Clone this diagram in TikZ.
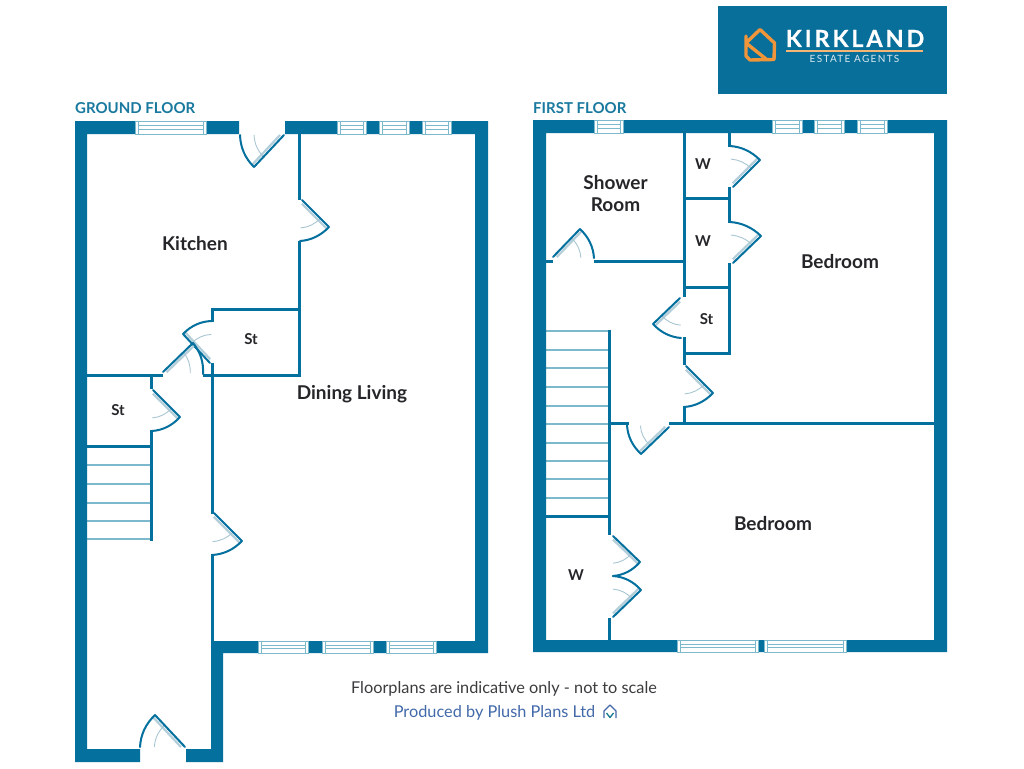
\documentclass[tikz,border=0pt]{standalone}
\usepackage{fontspec}
\setmainfont{Lato}
\usetikzlibrary{calc}
\definecolor{wallc}{HTML}{04709E}
\definecolor{winc}{HTML}{7DB9CC}
\definecolor{leafl}{HTML}{B4CEDA}
\definecolor{swingc}{HTML}{A9C6D3}
\definecolor{headc}{HTML}{19799F}
\definecolor{logoc}{HTML}{086E9A}
\definecolor{orangec}{HTML}{F0953A}
\definecolor{linkc}{HTML}{4269A9}
\definecolor{inkc}{HTML}{26262A}
\tikzset{
  thick wall/.style={fill=wallc,draw=none},
  thin wall/.style={draw=wallc,line width=3pt,line cap=rect},
  window/.style={draw=winc,line width=1pt,fill=white},
  riser/.style={draw=winc,line width=1.2pt},
  leaf/.style={draw=wallc,line width=2pt,line cap=round},
  leaf shade/.style={draw=leafl,line width=2.2pt},
  swing/.style={draw=swingc,line width=0.9pt},
  door arc/.style={draw=wallc,line width=2pt,line cap=round},
  room/.style={font=\bfseries\fontsize{19}{22}\selectfont,text=inkc,align=center,inner sep=0pt},
  small room/.style={font=\bfseries\fontsize{15}{17}\selectfont,text=inkc,inner sep=0pt},
  floor title/.style={font=\bfseries\fontsize{15}{18}\selectfont,text=headc,anchor=west,inner sep=0pt},
  note/.style={font=\fontsize{16.3}{18}\selectfont,inner sep=0pt}
}
% hinge, tip of leaf, end of swing
\newcommand{\doorleaf}[3]{%
  \coordinate (dh) at (#1);\coordinate (dt) at (#2);\coordinate (de) at (#3);
  \coordinate (st) at ($(dh)!0.68!(dt)$);\coordinate (se) at ($(dh)!0.68!(de)$);
  \draw[leaf shade] ($(dh)!0.09!(de)$) -- ($(dt)!0.09!(de)$);
  \draw[swing] (se) .. controls ($0.724*(se)+0.391*(st)-0.115*(dh)$) and ($0.724*(st)+0.391*(se)-0.115*(dh)$) .. (st);
  \draw[leaf] (dh) -- (dt);
  \draw[door arc] (dt) .. controls ($0.724*(dt)+0.391*(de)-0.115*(dh)$) and ($0.724*(de)+0.391*(dt)-0.115*(dh)$) .. (de);
}
\newcommand{\winpane}[4]{%
  \draw[window] (#1,#2) rectangle (#3,#4);
  \draw[window] ({#1+3},#2) -- ({#1+3},#4) ({#3-3},#2) -- ({#3-3},#4);
  \draw[window] ({#1+3},{#2+(#4-#2)*0.36}) -- ({#3-3},{#2+(#4-#2)*0.36})
                ({#1+3},{#2+(#4-#2)*0.66}) -- ({#3-3},{#2+(#4-#2)*0.66});
}
\begin{document}
\begin{tikzpicture}[x=1pt,y=-1pt]
\path[use as bounding box,fill=white] (0,0) rectangle (1024,768);

% logo
\fill[logoc] (718,6) rectangle (947,94);
\draw[orangec,line width=3.4pt,line join=round,line cap=round]
  (746,36) -- (746,56) -- (750,60) -- (774,59.5) -- (774.5,43) -- (760,29.5) -- (746,43) -- (766,59);
\node[inner sep=0pt,text=white] (brand) at (855,38.5)
  {\fontsize{23.5}{25}\selectfont\bfseries\addfontfeatures{LetterSpace=12,FakeBold=0.4}KIRKLAND};
\draw[draw=orangec!70!white,line width=1.4pt] (786,51) -- (923,51);
\node[inner sep=0pt,text=white!85!logoc] (brandsub) at (854.5,58.5)
  {\fontsize{10}{11}\selectfont\addfontfeatures{LetterSpace=13}ESTATE AGENTS};

% titles
\node[floor title] (gtitle) at (75,108) {GROUND FLOOR};
\node[floor title] (ftitle) at (533,108) {FIRST FLOOR};

% ground floor thin walls
\draw[thin wall] (299,134) -- (299,198);
\draw[thin wall] (212,320) -- (212,309) -- (299,309);
\draw[thin wall] (299,242) -- (299,375) -- (204,375);
\draw[thin wall] (87,375) -- (161,375);
\draw[thin wall] (151,375) -- (151,387);
\draw[thin wall] (151,431) -- (151,539);
\draw[thin wall] (212,364) -- (212,512);
\draw[thin wall] (212,555) -- (212,641);
\draw[thin wall] (87,446) -- (151,446);
\foreach \yy in {465,484,503,521,539} \draw[riser] (87,\yy) -- (150,\yy);

% ground floor outer walls
\path[thick wall] (75,121) rectangle (239,134) (285,121) rectangle (488,134)
  (75,121) rectangle (87,762) (75,749) rectangle (140,762)
  (186,749) rectangle (223,762) (211,641) rectangle (223,762)
  (211,641) rectangle (488,653) (475,121) rectangle (488,653);
\winpane{135}{121}{206}{134}
\winpane{337}{121}{366}{134}
\winpane{379}{121}{409}{134}
\winpane{422}{121}{451}{134}
\winpane{258}{641}{308}{653}
\winpane{322}{641}{373}{653}
\winpane{386}{641}{436}{653}

% ground floor doors
\doorleaf{284,135}{254,167}{240,135}
\doorleaf{302,200}{329,227}{300,241}
\doorleaf{210,363}{183,334}{212,321}
\doorleaf{163,372}{193,343}{203,374}
\doorleaf{153,390}{180,417}{152,431}
\doorleaf{214,513}{242,541}{212,555}
\doorleaf{185,747}{155,715}{140,747}

% first floor thin walls
\draw[thin wall] (684,133) -- (684,295);
\draw[thin wall] (729,133) -- (729,145);
\draw[thin wall] (729,188) -- (729,221);
\draw[thin wall] (729,264) -- (729,353) -- (684,353);
\draw[thin wall] (684,198) -- (729,198);
\draw[thin wall] (684,287) -- (729,287);
\draw[thin wall] (684,338) -- (684,363);
\draw[thin wall] (684,407) -- (684,423);
\draw[thin wall] (595,261) -- (684,261);
\draw[thin wall] (546,261) -- (551,261);
\draw[thin wall] (670,423) -- (934,423);
\draw[thin wall] (609,423) -- (627,423);
\draw[thin wall] (609,331) -- (609,533);
\draw[thin wall] (609,619) -- (609,640);
\draw[thin wall] (546,516) -- (609,516);
\foreach \yy in {331,350,368,387,406,424,443,461,479,498} \draw[riser] (546,\yy) -- (608,\yy);

% first floor outer walls
\path[thick wall] (533,120) rectangle (947,133) (533,120) rectangle (546,652)
  (533,640) rectangle (947,652) (934,120) rectangle (947,652);
\winpane{594}{120}{623}{133}
\winpane{772}{120}{802}{133}
\winpane{814}{120}{844}{133}
\winpane{857}{120}{887}{133}
\winpane{677}{640}{758}{652}
\winpane{764}{640}{846}{652}

% first floor doors
\doorleaf{553,257}{580,229}{594,258}
\doorleaf{733,187}{760,160}{730,146}
\doorleaf{733,263}{761,236}{730,222}
\doorleaf{680,298}{653,324}{681,338}
\doorleaf{686,366}{713,393}{684,407}
\doorleaf{669,427}{641,454}{627,425}
\doorleaf{613,536}{640,562}{613,576}
\doorleaf{613,617}{641,590}{613,576}

% room labels
\node[room] (kitchen) at (195,243.5) {Kitchen};
\node[room] (dining) at (352,394.5) {Dining Living};
\node[small room] (st1) at (251,339) {St};
\node[small room] (st2) at (118,410) {St};
\node[room] (shower) at (615.5,193.5) {Shower\\Room};
\node[small room] (w1) at (703,164) {W};
\node[small room] (w2) at (703,241) {W};
\node[small room] (st3) at (706.5,319) {St};
\node[room] (bed1) at (840,261.5) {Bedroom};
\node[room] (bed2) at (773,524) {Bedroom};
\node[small room] (w3) at (576,575.5) {W};

% notes
\node[note,text=inkc!90!white] (disc) at (504,688.5) {Floorplans are indicative only - not to scale};
\node[note,text=linkc] (prod) at (494.5,712.5) {Produced by Plush Plans Ltd};
\draw[linkc,line width=1.3pt,line join=round] (604,718) -- (604,711) -- (610,705) -- (616,711) -- (616,718);
\draw[teal!70!linkc,line width=1.3pt,line join=round] (606.5,713) -- (610,717.5) -- (613.5,713);
\end{tikzpicture}
\end{document}
